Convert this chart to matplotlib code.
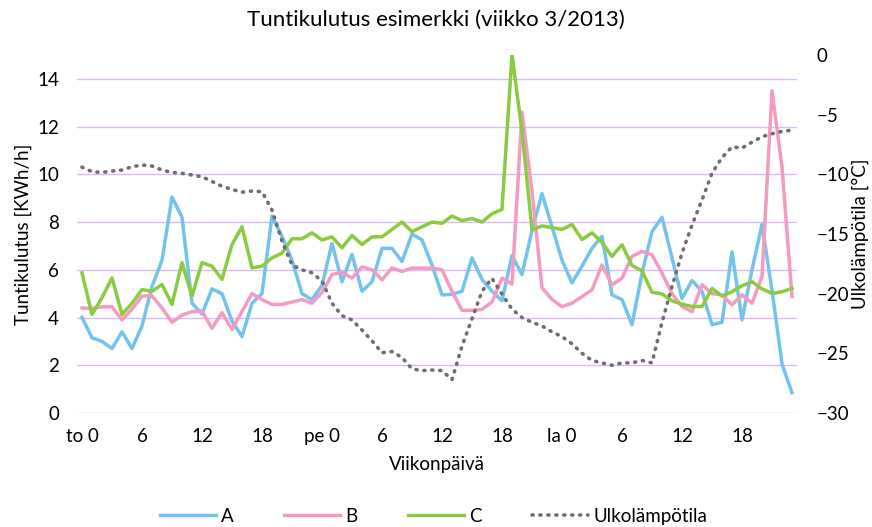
import matplotlib
matplotlib.use("Agg")
import matplotlib.pyplot as plt

plt.rcParams['font.family'] = ['Lato', 'DejaVu Sans']

# tunnit to 0 ... la 23
hours = list(range(72))
tick_pos = list(range(0, 72, 6))
tick_labels = ["to 0", "6", "12", "18", "pe 0", "6", "12", "18", "la 0", "6", "12", "18"]

A = [4.0, 3.15, 3.0, 2.7, 3.4, 2.7, 3.65, 5.3, 6.4, 9.05, 8.2, 4.6,
     4.15, 5.2, 5.0, 3.85, 3.2, 4.6, 5.0, 8.25, 7.4, 6.4, 5.0, 4.75,
     5.35, 7.1, 5.5, 6.65, 5.1, 5.5, 6.9, 6.9, 6.35, 7.5, 7.25, 6.2,
     4.95, 4.97, 5.1, 6.5, 5.6, 5.1, 4.7, 6.6, 5.8, 7.65, 9.2, 7.8,
     6.4, 5.45, 6.15, 6.9, 7.4, 4.95, 4.75, 3.7, 5.85, 7.6, 8.2, 6.5,
     4.8, 5.55, 5.1, 3.7, 3.8, 6.75, 3.9, 6.0, 7.9, 5.15, 2.05, 0.85]

B = [4.4, 4.38, 4.45, 4.45, 3.9, 4.35, 4.9, 4.9, 4.4, 3.8, 4.1, 4.25,
     4.27, 3.55, 4.2, 3.5, 4.25, 5.0, 4.75, 4.55, 4.55, 4.65, 4.75, 4.6,
     5.05, 5.8, 5.9, 5.65, 6.12, 6.0, 5.58, 6.08, 5.93, 6.07, 6.07, 6.07,
     6.0, 5.1, 4.3, 4.3, 4.34, 4.65, 5.65, 5.4, 12.6, 9.3, 5.25, 4.76,
     4.46, 4.6, 4.88, 5.16, 6.2, 5.37, 5.65, 6.56, 6.77, 6.63, 5.86, 5.0,
     4.46, 4.25, 5.37, 5.0, 4.95, 4.53, 4.95, 4.6, 5.72, 13.5, 10.3, 4.88]

C = [5.87, 4.13, 4.83, 5.66, 4.13, 4.6, 5.17, 5.1, 5.38, 4.55, 6.3, 4.9,
     6.3, 6.15, 5.6, 7.06, 7.8, 6.08, 6.15, 6.5, 6.7, 7.3, 7.3, 7.55,
     7.25, 7.38, 6.92, 7.44, 7.06, 7.38, 7.38, 7.69, 8.0, 7.6, 7.8, 8.0,
     7.95, 8.25, 8.06, 8.15, 8.0, 8.35, 8.53, 15.0, 11.8, 7.67, 7.84, 7.77,
     7.69, 7.9, 7.27, 7.55, 7.15, 6.56, 7.05, 6.18, 5.96, 5.06, 4.99, 4.7,
     4.56, 4.46, 4.46, 5.22, 4.9, 5.08, 5.33, 5.5, 5.2, 5.01, 5.08, 5.22]

temp = [-9.4, -9.78, -9.84, -9.73, -9.64, -9.36, -9.22, -9.3, -9.64, -9.84, -9.92, -10.06,
        -10.2, -10.6, -11.0, -11.26, -11.5, -11.4, -11.45, -13.0, -15.6, -17.6, -18.0, -18.25,
        -18.95, -20.8, -21.85, -22.2, -23.05, -23.95, -24.95, -24.85, -25.35, -26.3, -26.45, -26.4,
        -26.45, -27.2, -24.4, -22.1, -19.8, -18.7, -20.05, -21.3, -22.0, -22.4, -22.7, -23.2,
        -23.6, -24.2, -25.0, -25.6, -25.8, -26.0, -25.8, -25.8, -25.6, -25.8, -22.4, -19.4,
        -16.6, -14.25, -12.15, -9.9, -8.6, -7.7, -7.8, -7.3, -6.85, -6.6, -6.4, -6.3]

fs = 13.5

fig = plt.figure(figsize=(8.72, 5.27), dpi=100)
ax = fig.add_axes([77 / 872, 1 - 413 / 527, 720 / 872, 358 / 527])
ax2 = ax.twinx()

lw = 2.5
la, = ax.plot(hours, A, color='#72c3ee', lw=lw, label='A', zorder=3)
lb, = ax.plot(hours, B, color='#f39bc2', lw=lw, label='B', zorder=3)
lc, = ax.plot(hours, C, color='#8acb3f', lw=lw, label='C', zorder=4)
lt, = ax2.plot(hours, temp, color='#6e6e6e', lw=2.6, ls=(0, (0.3, 1.9)),
               dash_capstyle='round', label='Ulkolämpötila')

ax.set_xlim(-0.5, 71.5)
ax.set_ylim(0, 15)
ax2.set_ylim(-30, 0)
ax.set_yticks(range(0, 15, 2))
ax2.set_yticks(range(-30, 1, 5))
ax.set_xticks(tick_pos)
ax.set_xticklabels(tick_labels)

ax.grid(axis='y', color='#dcbaf4', lw=1.0)
ax.set_axisbelow(True)
for a in (ax, ax2):
    for s in a.spines.values():
        s.set_visible(False)
ax.tick_params(axis='y', length=0, pad=13, labelsize=fs)
ax.tick_params(axis='x', length=0, pad=11, labelsize=fs)
ax2.tick_params(axis='y', length=0, pad=14, labelsize=fs)

ax.set_ylabel('Tuntikulutus [KWh/h]', fontsize=fs, labelpad=4)
ax2.set_ylabel('Ulkolämpötila [°C]', fontsize=fs, labelpad=2)
ax.set_xlabel('Viikonpäivä', fontsize=fs, labelpad=8)
fig.suptitle('Tuntikulutus esimerkki (viikko 3/2013)', fontsize=16, y=0.982)

fig.legend(handles=[la, lb, lc, lt], loc='center', bbox_to_anchor=(0.497, 0.02),
           ncol=4, frameon=False, fontsize=fs, handlelength=3.0,
           columnspacing=2.7, handletextpad=0.25)

fig.savefig('out.png', dpi=100)
